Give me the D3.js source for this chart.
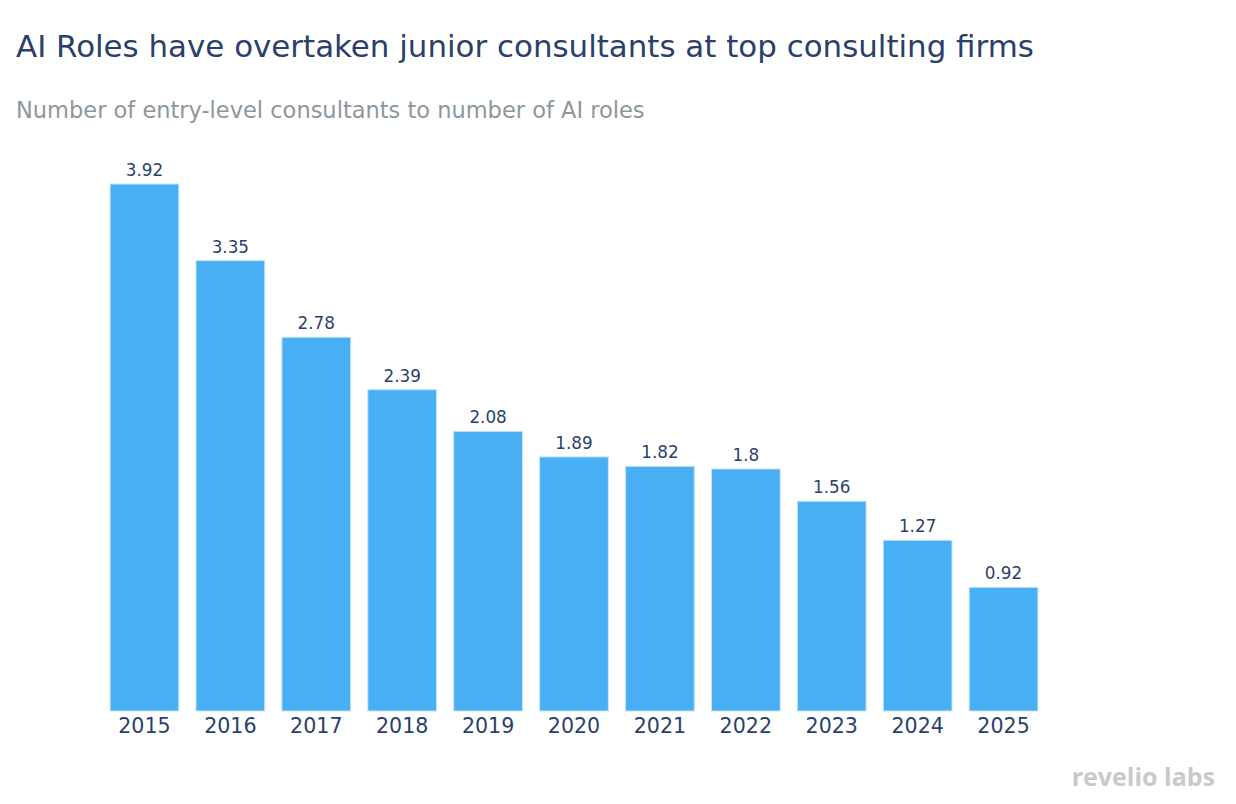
<!DOCTYPE html>
<html>
<head>
<meta charset="utf-8">
<script src="https://cdn.jsdelivr.net/npm/d3@7"></script>
<style>
  body { margin: 0; background: #fff; }
  svg { display: block; }
</style>
</head>
<body>
<script>
// data
let years = ['2015', '2016', '2017', '2018', '2019', '2020', '2021', '2022', '2023', '2024', '2025'];
let ratios = [3.92, 3.35, 2.78, 2.39, 2.08, 1.89, 1.82, 1.8, 1.56, 1.27, 0.92];

let w = 1236;
let h = 804;
let font = '"DejaVu Sans", Verdana, sans-serif';

let svg = d3.select('body')
  .append('svg')
  .attr('width', w)
  .attr('height', h);

// title + subtitle
svg.append('text')
  .attr('x', 16)
  .attr('y', 57)
  .style('font-family', font)
  .style('font-size', '30.9px')
  .style('fill', '#2a3f6b')
  .text('AI Roles have overtaken junior consultants at top consulting firms');

svg.append('text')
  .attr('x', 16)
  .attr('y', 118)
  .style('font-family', font)
  .style('font-size', '22.5px')
  .style('fill', '#8c979d')
  .text('Number of entry-level consultants to number of AI roles');

// scales
let xScale = d3.scaleBand()
  .domain(years)
  .range([101.5, 1046.5])
  .paddingInner(0.2)
  .paddingOuter(0.1);

let yScale = d3.scaleLinear()
  .domain([0, 3.92])
  .range([711, 184]);

let rows = years.map((y, i) => ({ year: y, value: ratios[i] }));

svg.selectAll('rect.bar')
  .data(rows)
  .enter()
  .append('rect')
  .attr('class', 'bar')
  .attr('x', d => xScale(d.year))
  .attr('width', xScale.bandwidth())
  .attr('y', d => yScale(d.value))
  .attr('height', d => yScale(0) - yScale(d.value))
  .style('fill', '#49aff5')
  .style('stroke', '#c4e3fa')
  .style('stroke-width', 1);

// value labels
svg.selectAll('text.val')
  .data(rows)
  .enter()
  .append('text')
  .attr('class', 'val')
  .attr('x', d => xScale(d.year) + xScale.bandwidth() / 2)
  .attr('y', d => yScale(d.value) - 8)
  .attr('text-anchor', 'middle')
  .style('font-family', font)
  .style('font-size', '16.8px')
  .style('fill', '#2a3f6b')
  .text(d => d.value);

// x axis, no line / ticks
let xAxis = d3.axisBottom(xScale).tickSize(0).tickPadding(7);

let gx = svg.append('g')
  .attr('transform', 'translate(0,' + yScale(0) + ')')
  .call(xAxis);

gx.select('.domain').remove();
gx.selectAll('text')
  .style('font-family', font)
  .style('font-size', '20.6px')
  .style('fill', '#2a3f6b');

// logo
svg.append('text')
  .attr('x', 1215)
  .attr('y', 786)
  .attr('text-anchor', 'end')
  .style('font-family', '"Open Sans", "DejaVu Sans", sans-serif')
  .style('font-weight', 'bold')
  .style('font-size', '25px')
  .style('fill', '#c9c9c9')
  .text('revelio labs');
</script>
</body>
</html>
